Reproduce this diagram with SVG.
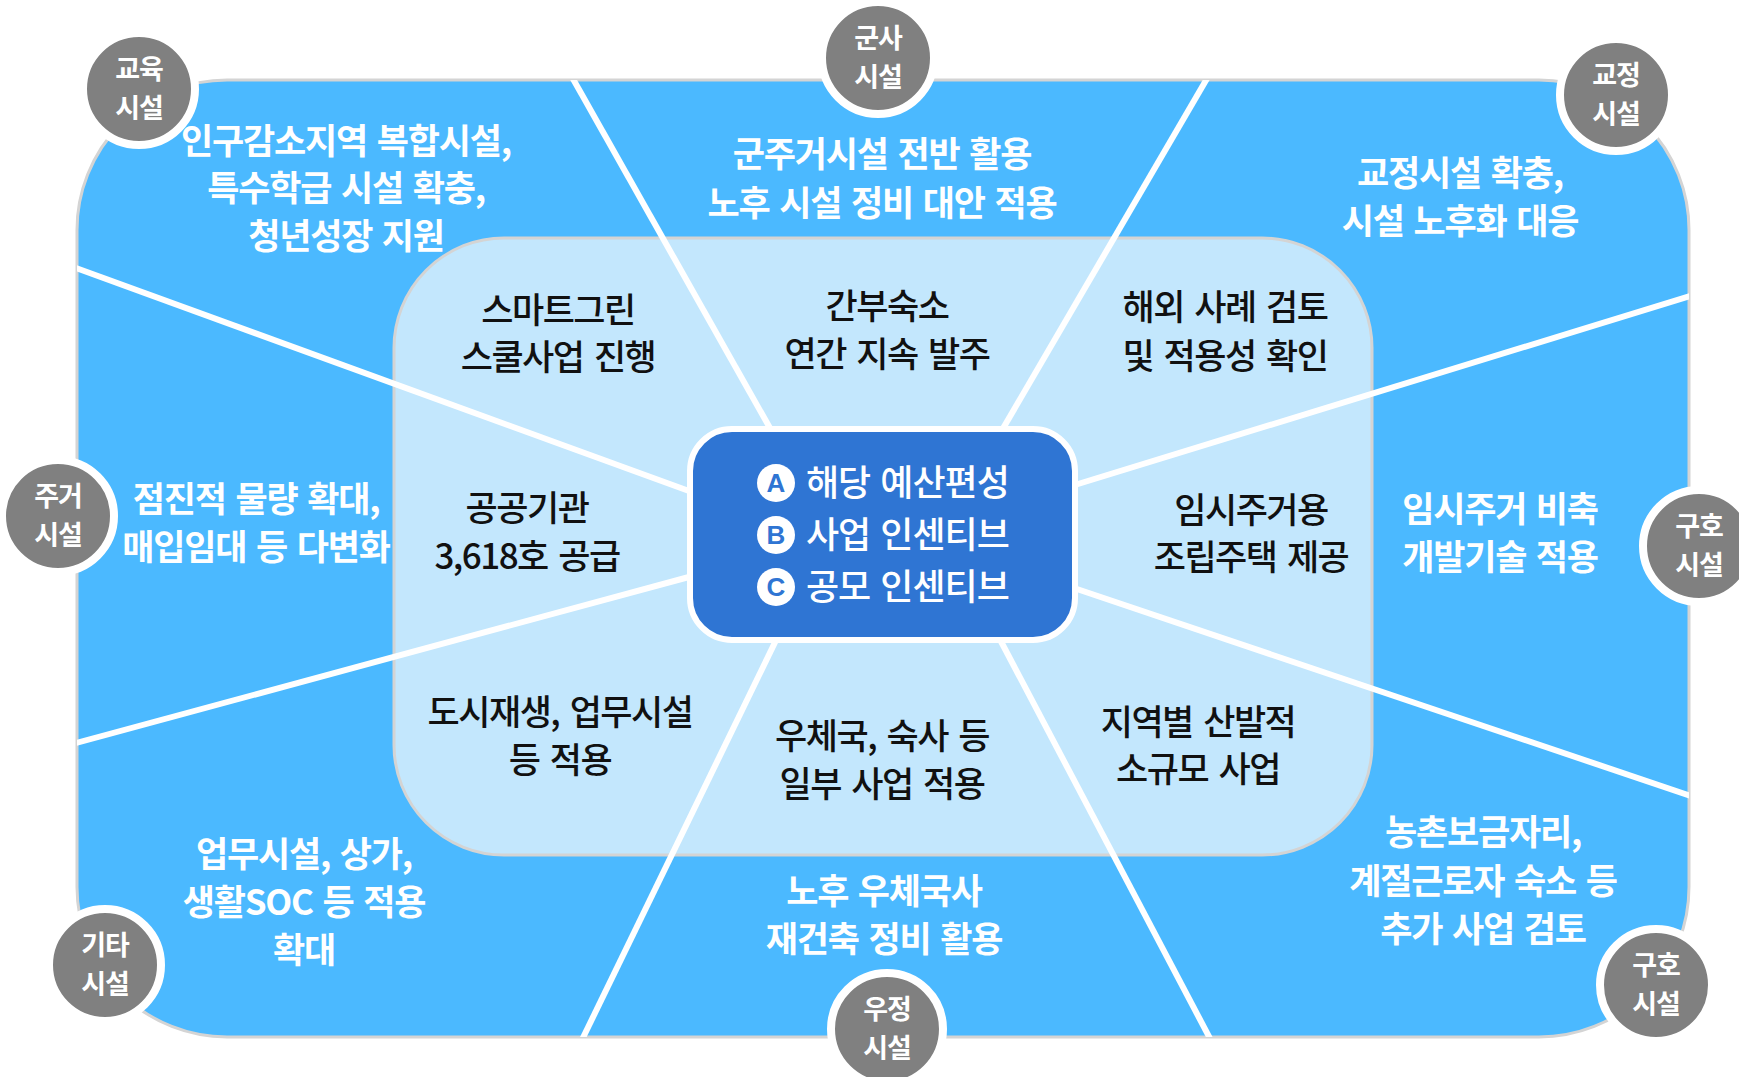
<svg xmlns="http://www.w3.org/2000/svg" width="1739" height="1077" viewBox="0 0 1739 1077">
<defs>
<style>
.wt{font-family:"Noto Sans CJK KR","Noto Sans",sans-serif;font-weight:700;font-size:35px;fill:#ffffff;text-anchor:middle;letter-spacing:-1.2px;word-spacing:3px}
.bt{font-family:"Noto Sans CJK KR","Noto Sans",sans-serif;font-weight:500;font-size:35px;fill:#111111;text-anchor:middle;letter-spacing:-1.5px;word-spacing:4px}
.ct{font-family:"Noto Sans CJK KR","Noto Sans",sans-serif;font-weight:500;font-size:36px;fill:#ffffff;letter-spacing:-1px;word-spacing:3px}
.cl{font-family:"Liberation Sans","Noto Sans",sans-serif;font-weight:700;font-size:26px;fill:#2f75d3;text-anchor:middle}
.lb{font-family:"Noto Sans CJK KR","Noto Sans",sans-serif;font-weight:700;font-size:27px;fill:#ffffff;text-anchor:middle;letter-spacing:-1px}
.badge{fill:#808080;stroke:#ffffff;stroke-width:8}
.ray{stroke:#ffffff;stroke-width:6;fill:none}
</style>
<clipPath id="outerClip"><rect x="77" y="80" width="1612" height="957" rx="150" ry="150"/></clipPath>
</defs>
<rect width="1739" height="1077" fill="#ffffff"/>
<g id="outer">
<rect x="77" y="80" width="1612" height="957" rx="150" ry="150" fill="#4bb9ff" stroke="#d4d4d4" stroke-width="3"/>
</g>
<g id="inner">
<rect x="394" y="238" width="978" height="617" rx="110" ry="110" fill="#c3e7fd" stroke="#d4d4d4" stroke-width="3"/>
</g>
<g id="connectors" clip-path="url(#outerClip)">
<line class="ray" x1="568" y1="70" x2="775" y2="437"/>
<line class="ray" x1="1212" y1="70" x2="998" y2="437"/>
<line class="ray" x1="65" y1="264" x2="700" y2="495"/>
<line class="ray" x1="65" y1="746" x2="700" y2="574"/>
<line class="ray" x1="1700" y1="293" x2="1065" y2="488"/>
<line class="ray" x1="1700" y1="799" x2="1065" y2="585"/>
<line class="ray" x1="781" y1="630" x2="578" y2="1048"/>
<line class="ray" x1="995" y1="630" x2="1215" y2="1048"/>
</g>
<g id="center">
<rect x="690" y="429" width="385" height="211" rx="42" ry="42" fill="#2f75d3" stroke="#ffffff" stroke-width="6"/>
<circle cx="776" cy="483" r="19" fill="#ffffff"/>
<text class="cl" x="776" y="492">A</text>
<text class="ct" x="806" y="496">해당 예산편성</text>
<circle cx="776" cy="535" r="19" fill="#ffffff"/>
<text class="cl" x="776" y="544">B</text>
<text class="ct" x="806" y="548">사업 인센티브</text>
<circle cx="776" cy="587" r="19" fill="#ffffff"/>
<text class="cl" x="776" y="596">C</text>
<text class="ct" x="806" y="600">공모 인센티브</text>
</g>
<g id="outer-texts">
<text class="wt" x="346" y="154">인구감소지역 복합시설,</text>
<text class="wt" x="346" y="201">특수학급 시설 확충,</text>
<text class="wt" x="346" y="249">청년성장 지원</text>
<text class="wt" x="882" y="167">군주거시설 전반 활용</text>
<text class="wt" x="882" y="216">노후 시설 정비 대안 적용</text>
<text class="wt" x="1460" y="186">교정시설 확충,</text>
<text class="wt" x="1460" y="234">시설 노후화 대응</text>
<text class="wt" x="256" y="512">점진적 물량 확대,</text>
<text class="wt" x="256" y="560">매입임대 등 다변화</text>
<text class="wt" x="304" y="867">업무시설, 상가,</text>
<text class="wt" x="304" y="915">생활SOC 등 적용</text>
<text class="wt" x="304" y="963">확대</text>
<text class="wt" x="1500" y="522">임시주거 비축</text>
<text class="wt" x="1500" y="570">개발기술 적용</text>
<text class="wt" x="1483" y="845">농촌보금자리,</text>
<text class="wt" x="1483" y="894">계절근로자 숙소 등</text>
<text class="wt" x="1483" y="942">추가 사업 검토</text>
<text class="wt" x="884" y="904">노후 우체국사</text>
<text class="wt" x="884" y="952">재건축 정비 활용</text>
</g>
<g id="inner-texts">
<text class="bt" x="558" y="323">스마트그린</text>
<text class="bt" x="558" y="370">스쿨사업 진행</text>
<text class="bt" x="887" y="319">간부숙소</text>
<text class="bt" x="887" y="367">연간 지속 발주</text>
<text class="bt" x="1225" y="320">해외 사례 검토</text>
<text class="bt" x="1225" y="369">및 적용성 확인</text>
<text class="bt" x="527" y="521">공공기관</text>
<text class="bt" x="527" y="569">3,618호 공급</text>
<text class="bt" x="1251" y="523">임시주거용</text>
<text class="bt" x="1251" y="570">조립주택 제공</text>
<text class="bt" x="560" y="725">도시재생, 업무시설</text>
<text class="bt" x="560" y="773">등 적용</text>
<text class="bt" x="882" y="749">우체국, 숙사 등</text>
<text class="bt" x="882" y="797">일부 사업 적용</text>
<text class="bt" x="1198" y="735">지역별 산발적</text>
<text class="bt" x="1198" y="782">소규모 사업</text>
</g>
<g id="badge-edu"><circle class="badge" cx="139" cy="89" r="56"/><text class="lb" x="139" y="79">교육</text><text class="lb" x="139" y="118">시설</text></g>
<g id="badge-mil"><circle class="badge" cx="878" cy="58" r="56"/><text class="lb" x="878" y="48">군사</text><text class="lb" x="878" y="87">시설</text></g>
<g id="badge-cor"><circle class="badge" cx="1616" cy="95" r="56"/><text class="lb" x="1616" y="85">교정</text><text class="lb" x="1616" y="124">시설</text></g>
<g id="badge-res"><circle class="badge" cx="58" cy="516" r="56"/><text class="lb" x="58" y="506">주거</text><text class="lb" x="58" y="545">시설</text></g>
<g id="badge-rel1"><circle class="badge" cx="1699" cy="546" r="56"/><text class="lb" x="1699" y="536">구호</text><text class="lb" x="1699" y="575">시설</text></g>
<g id="badge-etc"><circle class="badge" cx="105" cy="965" r="56"/><text class="lb" x="105" y="955">기타</text><text class="lb" x="105" y="994">시설</text></g>
<g id="badge-post"><circle class="badge" cx="887" cy="1029" r="56"/><text class="lb" x="887" y="1019">우정</text><text class="lb" x="887" y="1058">시설</text></g>
<g id="badge-rel2"><circle class="badge" cx="1656" cy="985" r="56"/><text class="lb" x="1656" y="975">구호</text><text class="lb" x="1656" y="1014">시설</text></g>
</svg>
